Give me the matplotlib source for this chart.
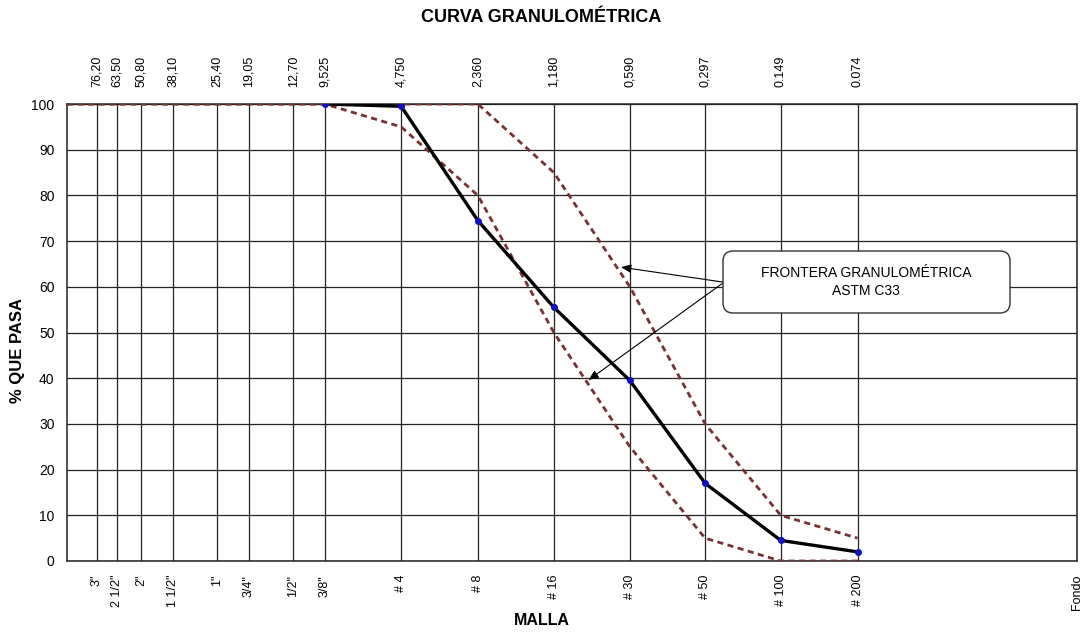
import numpy as np
import matplotlib
matplotlib.use('Agg')
import matplotlib.pyplot as plt
from matplotlib.patches import FancyBboxPatch
from matplotlib.ticker import NullLocator

plt.rcParams['font.family'] = ['Liberation Sans', 'DejaVu Sans']

# tamices (mm) y nombres
sizes = [76.2, 63.5, 50.8, 38.1, 25.4, 19.05, 12.7, 9.525, 4.75, 2.36, 1.18, 0.59, 0.297, 0.149, 0.074]
top_labels = ['76,20', '63,50', '50,80', '38,10', '25,40', '19,05', '12,70', '9,525',
              '4,750', '2,360', '1,180', '0,590', '0,297', '0.149', '0.074']
mallas = ['3"', '2 1/2"', '2"', '1 1/2"', '1"', '3/4"', '1/2"', '3/8"',
          '# 4', '# 8', '# 16', '# 30', '# 50', '# 100', '# 200']
fondo = 0.01

# curva de la muestra
muestra_x = [9.525, 4.75, 2.36, 1.18, 0.59, 0.297, 0.149, 0.074]
muestra_y = [100, 99.5, 74.5, 55.5, 39.5, 17, 4.5, 2]

# limites ASTM C33
lim_x = [100, 9.525, 4.75, 2.36, 1.18, 0.59, 0.297, 0.149, 0.074]
lim_sup = [100, 100, 100, 100, 85, 60, 30, 10, 5]
lim_inf = [100, 100, 95, 80, 50, 25, 5, 0, 0]

fig = plt.figure(figsize=(10.83, 6.33), dpi=100)
ax = fig.add_axes([67/1083, 72/633, 1010/1083, 457/633])

ax.set_xscale('log')
ax.set_xlim(100, fondo)
ax.set_ylim(0, 100)

brown = '#743232'
ax.plot(lim_x, lim_sup, color=brown, lw=2.0, ls=(0, (2.2, 1.6)), zorder=3)
ax.plot(lim_x, lim_inf, color=brown, lw=2.0, ls=(0, (2.2, 1.6)), zorder=3)
ax.plot(muestra_x, muestra_y, color='black', lw=2.4, zorder=4,
        marker='o', ms=4, mfc='#1010c0', mec='#1010c0')

ax.set_xticks(sizes + [fondo])
ax.set_xticklabels(mallas + ['Fondo'], rotation=90, fontsize=9, va='top')
ax.xaxis.set_minor_locator(NullLocator())
ax.set_yticks(np.arange(0, 101, 10))
ax.tick_params(axis='y', length=0, pad=9, labelsize=10)
ax.tick_params(axis='x', length=0, pad=10)

ax.grid(True, color='#222222', lw=0.9)
for s in ax.spines.values():
    s.set_color('#222222')
    s.set_linewidth(1.1)

top = ax.secondary_xaxis('top')
top.set_xticks(sizes)
top.set_xticklabels(top_labels, rotation=90, fontsize=9)
top.xaxis.set_minor_locator(NullLocator())
top.tick_params(length=0, pad=12)
top.spines['top'].set_visible(False)

fig.text(18/1083, 0.447, '% QUE PASA', rotation=90, ha='center', va='center',
         fontsize=12, fontweight='bold')
fig.text(0.5, 0.019, 'MALLA', ha='center', va='center', fontsize=11.5, fontweight='bold')
fig.text(0.5, 0.973, 'CURVA GRANULOMÉTRICA', ha='center', va='center', fontsize=13, fontweight='bold')

# cuadro de la frontera
box = FancyBboxPatch(((723-67)/1010, (561-313)/457), 287/1010, 62/457,
                     boxstyle='round,pad=0,rounding_size=0.01', mutation_aspect=2.2,
                     transform=ax.transAxes, fc='white', ec='#333333', lw=1.0, zorder=6)
ax.add_patch(box)
ax.text((866-67)/1010, (561-282)/457, 'FRONTERA GRANULOMÉTRICA\nASTM C33',
        transform=ax.transAxes, ha='center', va='center', fontsize=10,
        linespacing=1.3, zorder=7)
for tip in [(0.64, 64.3), (0.86, 39.6)]:
    ax.annotate('', xy=tip, xytext=(0.25, 61), xycoords='data',
                arrowprops=dict(arrowstyle='-|>,head_length=0.6,head_width=0.25',
                                color='black', lw=0.8, shrinkA=0, shrinkB=0), zorder=5)

fig.savefig('out.png', dpi=100)
